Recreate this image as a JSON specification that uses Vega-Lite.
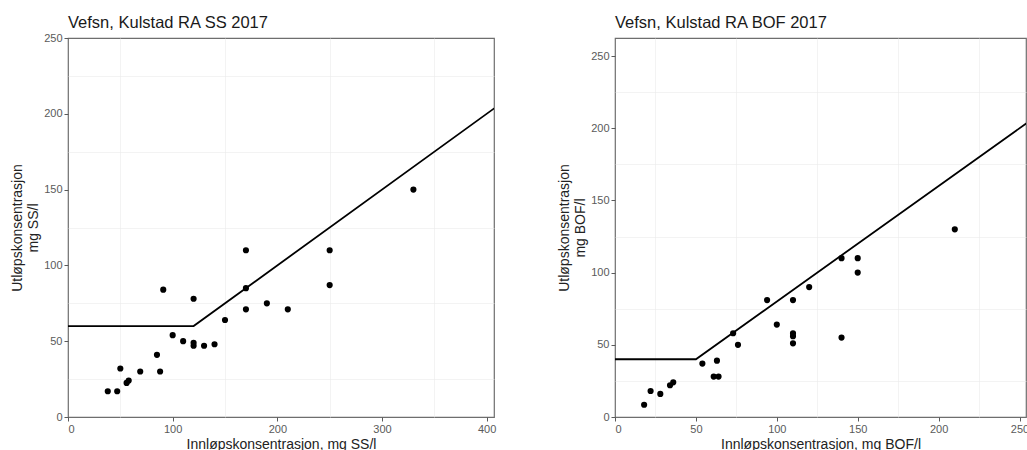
{
  "$schema": "https://vega.github.io/schema/vega-lite/v6.json",
  "padding": {"left": 10, "top": 13, "right": 0, "bottom": 0},
  "background": "white",
  "spacing": 60,
  "datasets": {
    "ss": [
      {"inn": 38, "ut": 17}, {"inn": 47, "ut": 17}, {"inn": 50, "ut": 32}, {"inn": 56, "ut": 22.5},
      {"inn": 58, "ut": 24}, {"inn": 69, "ut": 30}, {"inn": 85, "ut": 41}, {"inn": 88, "ut": 30},
      {"inn": 91, "ut": 84}, {"inn": 100, "ut": 54}, {"inn": 110, "ut": 50}, {"inn": 120, "ut": 78},
      {"inn": 120, "ut": 49}, {"inn": 120, "ut": 47}, {"inn": 130, "ut": 47}, {"inn": 140, "ut": 48},
      {"inn": 150, "ut": 64}, {"inn": 170, "ut": 110}, {"inn": 170, "ut": 85}, {"inn": 170, "ut": 71},
      {"inn": 190, "ut": 75}, {"inn": 210, "ut": 71}, {"inn": 250, "ut": 110}, {"inn": 250, "ut": 87},
      {"inn": 330, "ut": 150}
    ],
    "bof": [
      {"inn": 18, "ut": 8.5}, {"inn": 22, "ut": 18}, {"inn": 28, "ut": 16}, {"inn": 34, "ut": 22},
      {"inn": 36, "ut": 24}, {"inn": 54, "ut": 37}, {"inn": 61, "ut": 28}, {"inn": 63, "ut": 39},
      {"inn": 64, "ut": 28}, {"inn": 73, "ut": 58}, {"inn": 76, "ut": 50}, {"inn": 94, "ut": 81},
      {"inn": 100, "ut": 64}, {"inn": 110, "ut": 81}, {"inn": 110, "ut": 58}, {"inn": 110, "ut": 56},
      {"inn": 110, "ut": 51}, {"inn": 120, "ut": 90}, {"inn": 140, "ut": 110}, {"inn": 140, "ut": 55},
      {"inn": 150, "ut": 110}, {"inn": 150, "ut": 100}, {"inn": 210, "ut": 130}
    ],
    "ss_krav": [
      {"inn": 0, "ut": 60}, {"inn": 120, "ut": 60}, {"inn": 410, "ut": 205}
    ],
    "bof_krav": [
      {"inn": 0, "ut": 40}, {"inn": 50, "ut": 40}, {"inn": 260, "ut": 208}
    ]
  },
  "hconcat": [
    {
      "width": 426,
      "height": 379,
      "title": {"text": "Vefsn, Kulstad RA SS 2017", "offset": 1},
      "layer": [
        {
          "data": {"name": "ss"},
          "mark": {"type": "point", "opacity": 0},
          "encoding": {
            "x": {"field": "inn", "type": "quantitative", "scale": {"domain": [0, 407], "nice": false, "zero": false},
                  "axis": {"orient": "top", "values": [50, 150, 250, 350], "grid": true, "gridWidth": 0.6, "labels": false, "ticks": false, "domain": false, "title": null}},
            "y": {"field": "ut", "type": "quantitative", "scale": {"domain": [0, 250], "nice": false, "zero": false},
                  "axis": {"orient": "right", "values": [25, 75, 125, 175, 225], "grid": true, "gridWidth": 0.6, "labels": false, "ticks": false, "domain": false, "title": null}}
          }
        },
        {
          "data": {"name": "ss_krav"},
          "mark": {"type": "line", "color": "#000000", "strokeWidth": 1.8, "clip": true},
          "encoding": {
            "x": {"field": "inn", "type": "quantitative",
                  "axis": {"values": [0, 100, 200, 300, 400], "title": "Innløpskonsentrasjon, mg SS/l"}},
            "y": {"field": "ut", "type": "quantitative",
                  "axis": {"values": [0, 50, 100, 150, 200, 250], "title": ["Utløpskonsentrasjon", "mg SS/l"]}}
          }
        },
        {
          "data": {"name": "ss"},
          "mark": {"type": "circle", "color": "#000000", "opacity": 1, "size": 38},
          "encoding": {
            "x": {"field": "inn", "type": "quantitative", "axis": null},
            "y": {"field": "ut", "type": "quantitative", "axis": null}
          }
        }
      ],
      "resolve": {"axis": {"x": "independent", "y": "independent"}}
    },
    {
      "width": 411,
      "height": 379,
      "title": {"text": "Vefsn, Kulstad RA BOF 2017", "offset": 6.5},
      "layer": [
        {
          "data": {"name": "bof"},
          "mark": {"type": "point", "opacity": 0},
          "encoding": {
            "x": {"field": "inn", "type": "quantitative", "scale": {"domain": [0, 254], "nice": false, "zero": false},
                  "axis": {"orient": "top", "values": [25, 75, 125, 175, 225], "grid": true, "gridWidth": 0.6, "labels": false, "ticks": false, "domain": false, "title": null}},
            "y": {"field": "ut", "type": "quantitative", "scale": {"domain": [0, 262.5], "nice": false, "zero": false},
                  "axis": {"orient": "right", "values": [25, 75, 125, 175, 225], "grid": true, "gridWidth": 0.6, "labels": false, "ticks": false, "domain": false, "title": null}}
          }
        },
        {
          "data": {"name": "bof_krav"},
          "mark": {"type": "line", "color": "#000000", "strokeWidth": 1.8, "clip": true},
          "encoding": {
            "x": {"field": "inn", "type": "quantitative",
                  "axis": {"values": [0, 50, 100, 150, 200, 250], "title": "Innløpskonsentrasjon, mg BOF/l"}},
            "y": {"field": "ut", "type": "quantitative",
                  "axis": {"values": [0, 50, 100, 150, 200, 250], "title": ["Utløpskonsentrasjon", "mg BOF/l"]}}
          }
        },
        {
          "data": {"name": "bof"},
          "mark": {"type": "circle", "color": "#000000", "opacity": 1, "size": 38},
          "encoding": {
            "x": {"field": "inn", "type": "quantitative", "axis": null},
            "y": {"field": "ut", "type": "quantitative", "axis": null}
          }
        }
      ],
      "resolve": {"axis": {"x": "independent", "y": "independent"}}
    }
  ],
  "config": {
    "font": "Liberation Sans",
    "view": {"stroke": "#6e6e6e", "strokeWidth": 1.2},
    "title": {"anchor": "start", "frame": "group", "fontSize": 16.5, "fontWeight": "normal", "color": "#1a1a1a"},
    "axis": {
      "grid": true,
      "gridColor": "#ebebeb",
      "gridWidth": 1,
      "domain": false,
      "labelFontSize": 11,
      "labelColor": "#5a5a5a",
      "tickColor": "#5a5a5a",
      "tickSize": 4,
      "labelPadding": 2,
      "titleFontSize": 14,
      "titleFontWeight": "normal",
      "titleColor": "#222222"
    },
    "axisX": {"titlePadding": 3},
    "axisY": {"titlePadding": 3}
  }
}
